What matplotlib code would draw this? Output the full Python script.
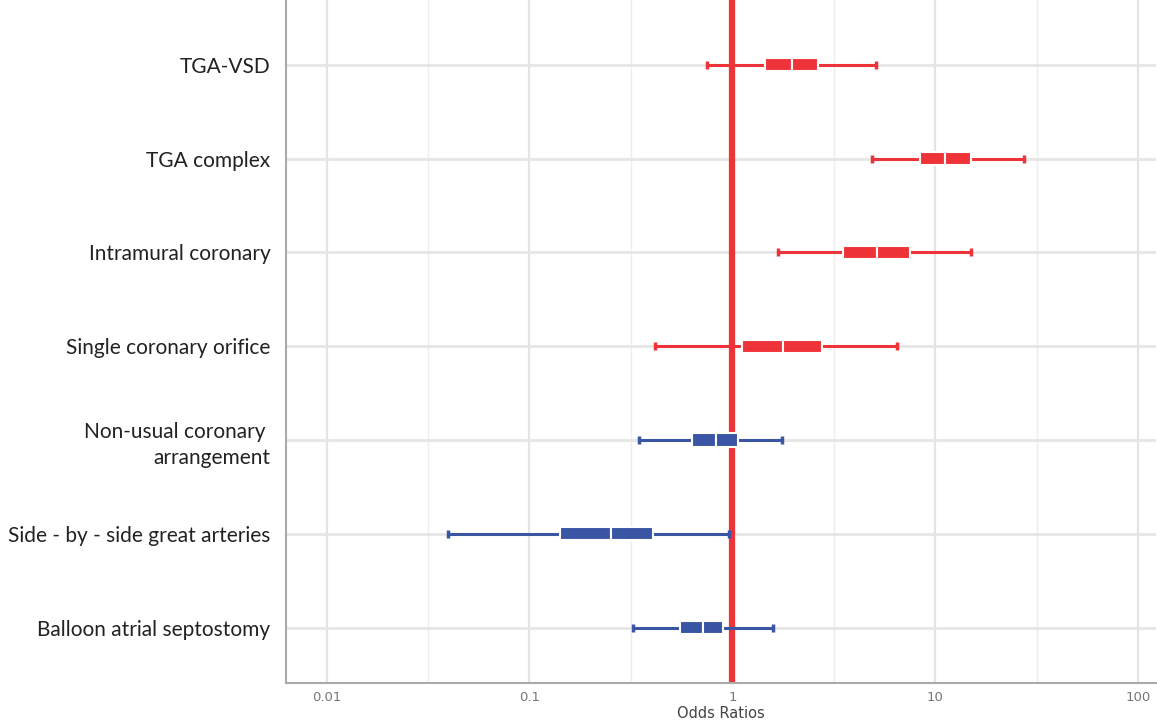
import numpy as np
import matplotlib
matplotlib.use("Agg")
import matplotlib.pyplot as plt

# rows, top to bottom
labels = ["TGA-VSD", "TGA complex", "Intramural coronary", "Single coronary orifice",
          "Non-usual coronary \narrangement", "Side - by - side great arteries",
          "Balloon atrial septostomy"]
lower = [0.75, 4.86, 1.68, 0.415, 0.346, 0.0396, 0.323]
q1 = [1.44, 8.44, 3.50, 1.11, 0.63, 0.142, 0.55]
median = [1.97, 11.2, 5.14, 1.78, 0.826, 0.252, 0.713]
q3 = [2.64, 15.0, 7.46, 2.76, 1.07, 0.405, 0.903]
upper = [5.08, 27.3, 15.0, 6.44, 1.76, 0.967, 1.59]
colors = ["#ee3439", "#ee3439", "#ee3439", "#ee3439", "#3a55a4", "#3a55a4", "#3a55a4"]

fig = plt.figure(figsize=(11.57, 7.24), dpi=100)
ax = fig.add_axes([0.247, 0.0566, 0.752, 0.9434])

ax.set_xscale("log")
ax.set_xlim(0.0063, 122)
ax.set_ylim(-0.59, 6.69)

y = np.arange(len(labels))[::-1]

# grid: decades and half decades
for e in range(-2, 3):
    ax.axvline(10.0 ** e, color="#e4e4e4", lw=1.6, zorder=0)
    ax.axvline(10.0 ** (e + 0.5), color="#eeeeee", lw=1.0, zorder=0)
for yy in y:
    ax.axhline(yy, color="#e6e6e6", lw=2, zorder=0)

ax.axvline(1, color="#ee3439", lw=4.5, zorder=2)

h = 0.14
for i in range(len(labels)):
    c = colors[i]
    ax.hlines(y[i], lower[i], upper[i], color=c, lw=2.2, zorder=3)
    ax.plot([lower[i], upper[i]], [y[i], y[i]], ls="none", marker="|", ms=6, mew=2.5, color=c, zorder=3)
    ax.barh(y[i], median[i] - q1[i], left=q1[i], height=h, color=c, edgecolor="white", lw=1.5, zorder=4)
    ax.barh(y[i], q3[i] - median[i], left=median[i], height=h, color=c, edgecolor="white", lw=1.5, zorder=4)

ax.set_yticks(y)
ax.set_yticklabels(labels, fontsize=15, family="Lato", color="#222222", ha="right",
                   multialignment="right", linespacing=1.35)
ax.tick_params(axis="y", length=0, pad=11)

ax.set_xticks([0.01, 0.1, 1, 10, 100])
ax.set_xticklabels(["0.01", "0.1", "1", "10", "100"])
ax.xaxis.set_minor_locator(matplotlib.ticker.NullLocator())
ax.tick_params(axis="x", length=0, pad=6, labelsize=9.5, labelcolor="#777777")
ax.set_xlabel("Odds Ratios", fontsize=10.5, color="#444444", labelpad=1)

for s in ["top", "right"]:
    ax.spines[s].set_visible(False)
for s in ["left", "bottom"]:
    ax.spines[s].set_color("#aaaaaa")
    ax.spines[s].set_linewidth(1.5)

fig.savefig("out.png", dpi=100)
